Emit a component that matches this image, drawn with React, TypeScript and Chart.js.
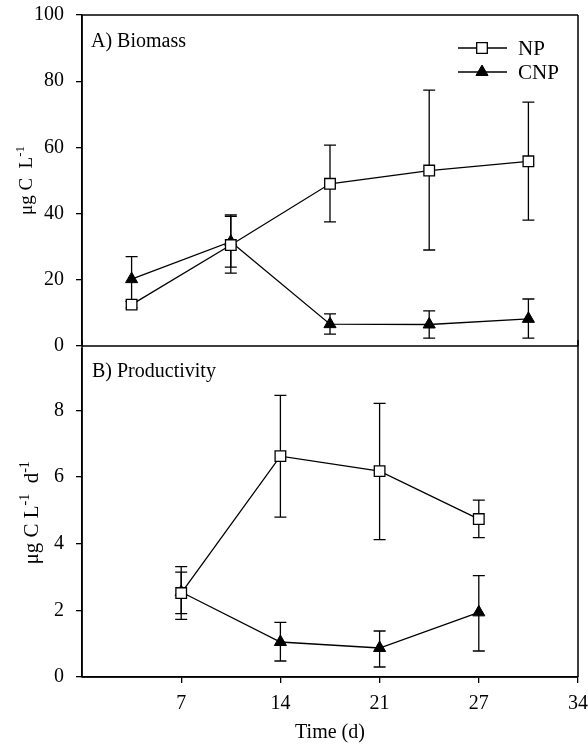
import React, { useEffect, useRef } from 'react';
import { Chart, registerables } from 'chart.js';
Chart.register(...registerables);

// ---- data ----
const xTickValues = [7, 14, 21, 28, 35];
const xTickLabels = ['7', '14', '21', '27', '34'];

const biomassDays = [3.5, 10.5, 17.5, 24.5, 31.5];
const biomassNP = [12.5, 30.5, 49, 53, 55.8];
const biomassNPHigh = [13.5, 39.2, 60.7, 77.3, 73.7];
const biomassNPLow = [11.5, 22, 37.5, 29, 38];
const biomassCNP = [20.2, 31.5, 6.6, 6.5, 8.2];
const biomassCNPHigh = [27, 39.6, 9.7, 10.6, 14.2];
const biomassCNPLow = [13.5, 23.8, 3.6, 2.4, 2.4];
const biomassYTicks = [0, 20, 40, 60, 80, 100];

const prodDays = [7, 14, 21, 28];
const prodNP = [2.52, 6.63, 6.18, 4.74];
const prodNPHigh = [3.15, 8.45, 8.21, 5.31];
const prodNPLow = [1.9, 4.8, 4.12, 4.18];
const prodCNP = [2.55, 1.05, 0.87, 1.94];
const prodCNPHigh = [3.31, 1.64, 1.38, 3.04];
const prodCNPLow = [1.73, 0.48, 0.3, 0.78];
const prodYTicks = [0, 2, 4, 6, 8];

const FONT = 'Liberation Serif';

function pts(xs: number[], ys: number[]) {
  return xs.map((x, i) => ({ x, y: ys[i] }));
}

function npDataset(xs: number[], ys: number[], hi: number[], lo: number[]) {
  return {
    label: 'NP',
    data: pts(xs, ys),
    errHigh: hi,
    errLow: lo,
    borderColor: '#000',
    borderWidth: 1.3,
    pointStyle: 'rect',
    pointRadius: 7.5,
    pointBackgroundColor: '#fff',
    pointBorderColor: '#000',
    pointBorderWidth: 1.3,
    showLine: true,
    tension: 0,
  };
}
function cnpDataset(xs: number[], ys: number[], hi: number[], lo: number[]) {
  return {
    label: 'CNP',
    data: pts(xs, ys),
    errHigh: hi,
    errLow: lo,
    borderColor: '#000',
    borderWidth: 1.3,
    pointStyle: 'triangle',
    pointRadius: 7,
    pointBackgroundColor: '#000',
    pointBorderColor: '#000',
    pointBorderWidth: 1,
    showLine: true,
    tension: 0,
  };
}

const errorBarPlugin = {
  id: 'errbars',
  beforeDatasetsDraw(chart: any) {
    const ctx = chart.ctx;
    const xs = chart.scales.x;
    const ys = chart.scales.y;
    ctx.save();
    ctx.strokeStyle = '#000';
    ctx.lineWidth = 1.3;
    chart.data.datasets.forEach((ds: any) => {
      ds.data.forEach((p: any, i: number) => {
        const px = xs.getPixelForValue(p.x);
        const top = ys.getPixelForValue(ds.errHigh[i]);
        const bot = ys.getPixelForValue(ds.errLow[i]);
        ctx.beginPath();
        ctx.moveTo(px, top);
        ctx.lineTo(px, bot);
        ctx.moveTo(px - 6, top);
        ctx.lineTo(px + 6, top);
        ctx.moveTo(px - 6, bot);
        ctx.lineTo(px + 6, bot);
        ctx.stroke();
      });
    });
    ctx.restore();
  },
};

function makeFramePlugin(drawTop: boolean) {
  return {
    id: 'frame',
    afterDraw(chart: any) {
      const { left, right, top, bottom } = chart.chartArea;
      const ctx = chart.ctx;
      ctx.save();
      ctx.strokeStyle = '#000';
      ctx.lineWidth = 1.5;
      ctx.beginPath();
      if (drawTop) {
        ctx.moveTo(left, top);
        ctx.lineTo(right, top);
      }
      ctx.moveTo(right, drawTop ? top : 0);
      ctx.lineTo(right, bottom);
      ctx.moveTo(left, bottom);
      ctx.lineTo(right, bottom);
      ctx.moveTo(left, drawTop ? top : 0);
      ctx.lineTo(left, bottom);
      ctx.stroke();
      ctx.restore();
    },
  };
}

type Seg = { t: string; sup?: boolean };
function drawRotatedTitle(ctx: CanvasRenderingContext2D, segs: Seg[], bx: number, cy: number, size: number) {
  ctx.save();
  ctx.translate(bx, cy);
  ctx.rotate(-Math.PI / 2);
  ctx.fillStyle = '#000';
  ctx.textBaseline = 'alphabetic';
  const main = `${size}px "${FONT}"`;
  const sup = `${Math.round(size * 0.68)}px "${FONT}"`;
  let total = 0;
  segs.forEach((s) => {
    ctx.font = s.sup ? sup : main;
    total += ctx.measureText(s.t).width;
  });
  let x = -total / 2;
  segs.forEach((s) => {
    ctx.font = s.sup ? sup : main;
    ctx.fillText(s.t, x, s.sup ? -size * 0.42 : 0);
    x += ctx.measureText(s.t).width;
  });
  ctx.restore();
}

function drawMarker(ctx: CanvasRenderingContext2D, style: string, r: number, x: number, y: number) {
  ctx.beginPath();
  if (style === 'rect') {
    const s = Math.SQRT1_2 * r;
    ctx.rect(x - s, y - s, 2 * s, 2 * s);
  } else {
    const rad = -Math.PI / 2;
    ctx.moveTo(x + Math.cos(rad) * r, y + Math.sin(rad) * r);
    ctx.lineTo(x + Math.cos(rad + (2 * Math.PI) / 3) * r, y + Math.sin(rad + (2 * Math.PI) / 3) * r);
    ctx.lineTo(x + Math.cos(rad + (4 * Math.PI) / 3) * r, y + Math.sin(rad + (4 * Math.PI) / 3) * r);
    ctx.closePath();
  }
  ctx.fill();
  ctx.stroke();
}

function makeTextPlugin(panelLabel: string, labelX: number, labelY: number, titleSegs: Seg[], titleX: number, titleSize: number, legend: boolean) {
  return {
    id: 'texts',
    afterDraw(chart: any) {
      const ctx = chart.ctx as CanvasRenderingContext2D;
      const { top, bottom } = chart.chartArea;
      ctx.save();
      ctx.fillStyle = '#000';
      ctx.font = `20px "${FONT}"`;
      ctx.textBaseline = 'alphabetic';
      ctx.textAlign = 'left';
      ctx.fillText(panelLabel, labelX, labelY);
      ctx.restore();
      drawRotatedTitle(ctx, titleSegs, titleX, (top + bottom) / 2, titleSize);
      if (legend) {
        const items = chart.data.datasets;
        items.forEach((ds: any, i: number) => {
          const y = 48 + i * 24;
          ctx.save();
          ctx.strokeStyle = '#000';
          ctx.lineWidth = 1.3;
          ctx.beginPath();
          ctx.moveTo(458, y);
          ctx.lineTo(507, y);
          ctx.stroke();
          ctx.restore();
          ctx.save();
          ctx.lineWidth = ds.pointBorderWidth;
          ctx.fillStyle = ds.pointBackgroundColor;
          ctx.strokeStyle = ds.pointBorderColor;
          drawMarker(ctx, ds.pointStyle, ds.pointRadius, 482, y);
          ctx.restore();
          ctx.save();
          ctx.fillStyle = '#000';
          ctx.font = `21px "${FONT}"`;
          ctx.textBaseline = 'middle';
          ctx.fillText(ds.label, 518, y + 1);
          ctx.restore();
        });
      }
    },
  };
}

function yScale(min: number, max: number, tickVals: number[]) {
  return {
    type: 'linear',
    min,
    max,
    afterBuildTicks: (s: any) => {
      s.ticks = tickVals.map((v) => ({ value: v }));
    },
    afterFit: (s: any) => {
      s.width = 82;
      s.paddingTop = 0;
      s.paddingBottom = 0;
    },
    ticks: { color: '#000', font: { family: FONT, size: 20 }, padding: 12 },
    grid: { drawOnChartArea: false, drawTicks: true, tickLength: 6, color: '#000', lineWidth: 1.3 },
    border: { display: true, color: '#000', width: 1.5 },
  };
}

export default function App() {
  const topRef = useRef<HTMLCanvasElement>(null);
  const botRef = useRef<HTMLCanvasElement>(null);

  useEffect(() => {
    document.body.style.margin = '0';
    const top = new Chart(topRef.current!, {
      type: 'scatter',
      data: {
        datasets: [
          npDataset(biomassDays, biomassNP, biomassNPHigh, biomassNPLow) as any,
          cnpDataset(biomassDays, biomassCNP, biomassCNPHigh, biomassCNPLow) as any,
        ],
      },
      options: {
        animation: false,
        responsive: false,
        events: [],
        layout: { padding: { left: 0, right: 10, top: 15, bottom: 14 } },
        plugins: { legend: { display: false }, tooltip: { enabled: false } },
        scales: {
          x: { type: 'linear', min: 0, max: 35, display: false },
          y: yScale(0, 100, biomassYTicks) as any,
        },
      },
      plugins: [
        errorBarPlugin,
        makeFramePlugin(true),
        makeTextPlugin('A) Biomass', 91, 47, [{ t: 'μg C  L' }, { t: '-1', sup: true }], 32, 19, true),
      ],
    });
    const bot = new Chart(botRef.current!, {
      type: 'scatter',
      data: {
        datasets: [
          npDataset(prodDays, prodNP, prodNPHigh, prodNPLow) as any,
          cnpDataset(prodDays, prodCNP, prodCNPHigh, prodCNPLow) as any,
        ],
      },
      options: {
        animation: false,
        responsive: false,
        events: [],
        layout: { padding: { left: 0, right: 10, top: 6, bottom: 0 } },
        plugins: { legend: { display: false }, tooltip: { enabled: false } },
        scales: {
          x: {
            type: 'linear',
            min: 0,
            max: 35,
            afterBuildTicks: (s: any) => {
              s.ticks = xTickValues.map((v) => ({ value: v }));
            },
            afterFit: (s: any) => {
              s.height = 69;
              s.paddingLeft = 0;
              s.paddingRight = 0;
            },
            ticks: {
              color: '#000',
              font: { family: FONT, size: 20 },
              padding: 9,
              maxRotation: 0,
              callback: (v: any) => {
                const i = xTickValues.indexOf(Number(v));
                return i >= 0 ? xTickLabels[i] : '';
              },
            },
            grid: { drawOnChartArea: false, drawTicks: true, tickLength: 6, color: '#000', lineWidth: 1.3 },
            border: { display: true, color: '#000', width: 1.5 },
            title: {
              display: true,
              text: 'Time (d)',
              color: '#000',
              font: { family: FONT, size: 20 },
              padding: { top: 4, bottom: 1 },
            },
          },
          y: yScale(0, 9.85, prodYTicks) as any,
        },
      },
      plugins: [
        errorBarPlugin,
        makeFramePlugin(false),
        makeTextPlugin(
          'B) Productivity',
          92,
          377 - 340,
          [{ t: 'μg C L' }, { t: '-1', sup: true }, { t: '  d' }, { t: '-1', sup: true }],
          38,
          21,
          false
        ),
      ],
    });
    return () => {
      top.destroy();
      bot.destroy();
    };
  }, []);

  return (
    <div style={{ position: 'relative', width: 588, height: 746 }}>
      <canvas ref={topRef} width={588} height={360} style={{ position: 'absolute', left: 0, top: 0, width: 588, height: 360 }} />
      <canvas ref={botRef} width={588} height={406} style={{ position: 'absolute', left: 0, top: 340, width: 588, height: 406 }} />
    </div>
  );
}
